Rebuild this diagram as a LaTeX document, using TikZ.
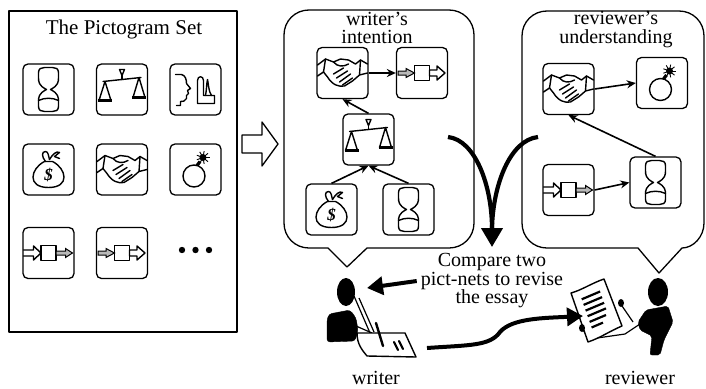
\documentclass[tikz,border=0pt]{standalone}
\usepackage{fontspec}
\setmainfont{Liberation Serif}
\usetikzlibrary{arrows.meta}

\newcommand\dgmfont{\fontsize{20}{18.5}\selectfont}

\tikzset{
  pbox/.style={draw, line width=1.3pt, rounded corners=5pt,
    minimum width=51pt, minimum height=51pt, inner sep=0pt},
  icon/.style={line width=1.4pt, line join=round, line cap=round},
  frame/.style={line width=1.3pt, line join=round},
  txt/.style={font=\dgmfont, align=center, inner sep=0pt},
  link/.style={line width=1.6pt, -{Stealth[length=9pt,width=8pt]}},
  heavy/.style={line width=4.2pt, -{Triangle[length=19pt,width=21pt]}},
  heavymid/.style={line width=4pt, -{Triangle[length=16pt,width=18pt]}},
  figure/.style={fill=black, draw=black, line join=round},
  % hourglass
  pics/hourglass/.style={code={
    \draw[icon] (-2,0) .. controls (-10,-4) and (-10,-8) .. (-10,-12) -- (-10,-17)
      .. controls (-10,-21) and (-7,-22) .. (-4,-22) -- (4,-22)
      .. controls (7,-22) and (10,-21) .. (10,-17) -- (10,-12)
      .. controls (10,-8) and (10,-4) .. (2,0)
      .. controls (10,4) and (10,8) .. (10,12) -- (10,17)
      .. controls (10,21) and (7,22) .. (4,22) -- (-4,22)
      .. controls (-7,22) and (-10,21) .. (-10,17) -- (-10,12)
      .. controls (-10,8) and (-10,4) .. (-2,0) -- cycle;
    \draw[icon] (-10,11) .. controls (-4,8) and (4,8) .. (10,11);
  }},
  % balance scales
  pics/scales/.style={code={
    \draw[icon] (-19,-8) -- (19,-12);
    \draw[icon] (-2.5,-20) -- (2.5,-20) -- (0,-14) -- cycle;
    \draw[icon] (0,-14) -- (0,-10);
    \draw[icon] (-23,11) -- (-17,-8) -- (-11,11);
    \draw[icon] (11,8) -- (17,-12) -- (23,8);
    \draw[line width=2.8pt] (-24,11) -- (-10,11);
    \draw[line width=2.8pt] (10,8) -- (24,8);
  }},
  % face in profile beside a raised hand
  pics/face/.style={code={
    \draw[icon] (-20,-15) -- (-14,-15) .. controls (-10,-14) and (-9,-10) .. (-9,-6)
      -- (-5,-1) -- (-8,1) -- (-7,4) -- (-9,6) -- (-9,9)
      .. controls (-10,12) and (-13,12) .. (-15,12) -- (-15,16) -- (-19,16);
    \draw[icon] (2,14) -- (2,-9) .. controls (2,-14) and (8,-14) .. (8,-9) -- (8,6)
      -- (19,6) -- (19,14) -- cycle;
    \draw[icon] (10,6) .. controls (11,2) and (11,-6) .. (12,-10)
      .. controls (13,-6) and (13,2) .. (16,6);
  }},
  % money bag
  pics/money/.style={code={
    \draw[icon] (-4,-8) .. controls (-18,-1) and (-22,18) .. (0,18)
      .. controls (22,18) and (18,-1) .. (4,-8) -- cycle;
    \draw[icon] (-3,-8) .. controls (-7,-13) and (-7,-18) .. (-3,-18)
      .. controls (0,-18) and (0,-13) .. (1,-10);
    \draw[icon] (1,-10) .. controls (4,-15) and (8,-19) .. (11,-17) -- (6,-13) -- (11,-11);
    \node[inner sep=0pt] at (0,5) {\fontsize{17}{17}\selectfont\bfseries\itshape\$};
  }},
  % handshake
  pics/handshake/.style={code={
    \draw[icon] (-25,-8) -- (-17,-14) -- (-9,-11) -- (-2,-14) -- (6,-13) -- (13,-9)
      -- (18,-13) -- (25,-9);
    \draw[icon] (-25,3) -- (-19,-1) -- (-15,4) .. controls (-10,12) and (-4,14) .. (2,13)
      -- (10,8) -- (17,2) -- (25,0);
    \draw[icon] (-9,-11) .. controls (-5,-6) and (1,-6) .. (6,-9);
    \draw[icon] (-9,1) -- (1,-5);
    \draw[icon] (-6,5) -- (5,-2);
    \draw[icon] (-3,9) -- (8,1);
    \draw[icon] (0,12) -- (10,5);
    \draw[icon] (-17,-14) -- (-19,-1);
    \draw[icon] (18,-13) -- (17,2);
  }},
  % bomb with a lit fuse
  pics/bomb/.style={code={
    \draw[icon] (-1.5,6.5) circle[radius=11];
    \draw[line width=3.2pt] (1.5,-4) -- (4.5,-8);
    \fill (7.5,-12) circle[radius=3.5];
    \foreach \a in {0,40,...,320} \draw[line width=0.9pt] (7.5,-12) -- ++(\a:6.5);
  }},
  % process: hollow arrow in, grey arrow out
  pics/procA/.style={code={
    \draw[icon] (-7.5,-7.5) rectangle (7.5,7.5);
    \draw[icon] (-25,-3) -- (-15,-3) -- (-15,-7) -- (-7.5,0) -- (-15,7) -- (-15,3)
      -- (-25,3);
    \draw[line width=1pt, fill=gray!55] (7.5,-2) -- (17,-2) -- (17,-4.5) -- (24,0)
      -- (17,4.5) -- (17,2) -- (7.5,2) -- cycle;
  }},
  % process: grey arrow in, hollow arrow out
  pics/procB/.style={code={
    \draw[icon] (-7.5,-7.5) rectangle (7.5,7.5);
    \draw[line width=1pt, fill=gray!55] (-24,-2) -- (-16,-2) -- (-16,-4.5)
      -- (-7.5,0) -- (-16,4.5) -- (-16,2) -- (-24,2) -- cycle;
    \draw[icon] (7.5,-3) -- (15,-3) -- (15,-7) -- (23,0) -- (15,7) -- (15,3)
      -- (7.5,3) -- cycle;
  }}
}

\begin{document}
\begin{tikzpicture}[x=1pt, y=-1pt]
\useasboundingbox (0,0) rectangle (706,388);

%----- the pictogram set -----
\draw[frame] (9,11) rectangle (237,332);
\node[inner sep=0pt] (settitle) at (124,29) {\fontsize{21}{21}\selectfont The Pictogram Set};

\node[pbox] (s1) at (48.5,89.5) {};   \pic at (s1) {hourglass};
\node[pbox] (s2) at (122,89.5) {};    \pic at (s2) {scales};
\node[pbox] (s3) at (195.5,89.5) {};  \pic at (s3) {face};
\node[pbox] (s4) at (48.5,169.5) {};  \pic at (s4) {money};
\node[pbox] (s5) at (122,169.5) {};   \pic at (s5) {handshake};
\node[pbox] (s6) at (195.5,169.5) {}; \pic at (s6) {bomb};
\node[pbox] (s7) at (48.5,253) {};    \pic at (s7) {procA};
\node[pbox] (s8) at (122,253) {};     \pic at (s8) {procB};
\foreach \x in {182,195.5,209} \fill (\x,250) circle[radius=3.2];

% hollow arrow towards the bubbles
\draw[frame] (242,135) -- (262,135) -- (262,122) -- (278,144) -- (262,166)
  -- (262,153) -- (242,153) -- cycle;

%----- writer's bubble -----
\draw[frame] (328,248) -- (309,248) .. controls (295,248) and (284,237) .. (284,223)
  -- (284,35) .. controls (284,21) and (295,10) .. (309,10) -- (449,10)
  .. controls (463,10) and (474,21) .. (474,35) -- (474,223)
  .. controls (474,237) and (463,248) .. (449,248) -- (367,248) -- (347,267) -- cycle;
\node[txt] (wtitle) at (377,28) {writer’s\\intention};

\node[pbox] (whs) at (342.5,73) {};   \pic at (whs) {handshake};
\node[pbox] (wpr) at (422,73) {};     \pic at (wpr) {procB};
\node[pbox] (wsc) at (368.5,139.5) {}; \pic at (wsc) {scales};
\node[pbox] (wmo) at (331.5,209.5) {}; \pic at (wmo) {money};
\node[pbox] (whg) at (408.5,209.5) {}; \pic at (whg) {hourglass};

\draw[link] (whs.east) -- (wpr.west);
\draw[link] (wsc.north) -- (whs.south);
\draw[link] (wmo.north) -- (wsc.south);
\draw[link] (whg.north) -- (wsc.south);

%----- reviewer's bubble -----
\draw[frame] (638,248) -- (547,248) .. controls (533,248) and (522,237) .. (522,223)
  -- (522,36) .. controls (522,22) and (533,11) .. (547,11) -- (679,11)
  .. controls (693,11) and (704,22) .. (704,36) -- (704,223)
  .. controls (704,237) and (693,248) .. (682,248) -- (659,273) -- cycle;
\node[txt] (rtitle) at (616,29.5) {reviewer’s\\understanding};

\node[pbox] (rhs) at (568.5,89) {};   \pic at (rhs) {handshake};
\node[pbox] (rbo) at (662,83) {};     \pic at (rbo) {bomb};
\node[pbox] (rpr) at (568.5,190) {};  \pic at (rpr) {procA};
\node[pbox] (rhg) at (655.5,182.5) {}; \pic at (rhg) {hourglass};

\draw[link] (rhs.east) -- (rbo.west);
\draw[link] (rhg.north) -- (rhs.south);
\draw[link] (rpr.east) -- (rhg.west);

%----- comparison arrows -----
\coordinate (cl) at (448,137);
\coordinate (cr) at (538,137);
\coordinate (ctip) at (492,247);
\coordinate (cjoin) at (492,228);
\draw[line width=4.2pt] (cr) .. controls (510,140) and (493,185) .. (cjoin);
\draw[heavy] (cl) .. controls (475,140) and (492,185) .. (ctip);

\node[txt] (cmp) at (492,281) {Compare two\\pict-nets to revise\\the essay};

%----- writer -----
\coordinate (wface) at (367,288);
\fill (346,292) ellipse[x radius=9, y radius=14];
\fill[figure, rounded corners=3pt] (329,314) -- (350,310) -- (356,318) -- (358,330)
  -- (355,341) -- (327,342) -- (327,320) -- cycle;
\draw[line width=1.2pt] (354,296) -- (370,333);
\draw[line width=1.2pt] (359,298) -- (374,332);
\draw[line width=1.2pt] (356,326) -- (372,333);
\draw[icon, fill=white] (357,333) -- (405,333) -- (416,357) -- (367,356)
  .. controls (362,350) and (357,344) .. (357,333) -- cycle;
\draw[line width=2.4pt, line cap=round] (376,323) -- (383,346);
\draw[line width=2.2pt, line cap=round] (394,342) -- (398,350);
\draw[line width=2.2pt, line cap=round] (399,341) -- (403,349);
\node[txt] (wlabel) at (376,378) {writer};
\coordinate (wpaper) at (427,348);

%----- reviewer -----
\fill (658,292) ellipse[x radius=10, y radius=14];
\fill[figure, rounded corners=2pt] (646,310) -- (668,306) -- (673,322) -- (664,340)
  -- (660,355) -- (650,355) -- (652,336) -- (640,330) -- (638,322) -- cycle;
\draw[line width=1.2pt] (583,330) -- (590,339) -- (625,334) -- (640,324);
\draw[line width=1.2pt] (620,303) -- (633,322);
\draw[icon, fill=white] (571,293) .. controls (582,290) and (592,283) .. (604,279)
  -- (622,326) .. controls (610,331) and (600,338) .. (588,342) -- cycle;
\foreach \ax/\ay/\bx/\by in {581.7/299.3/600.1/291.5, 583.6/304.9/602.1/297.1,
    585.6/310.6/604.1/302.8, 587.6/316.2/606.0/308.4, 589.6/321.9/606/315,
    591.6/327.5/603/322.6}
  \draw[line width=2.2pt] (\ax,\ay) -- (\bx,\by);
\fill (582,328) ellipse[x radius=3, y radius=4];
\fill (621,303) ellipse[x radius=3, y radius=4];
\node[txt] (rlabel) at (640,378) {reviewer};
\coordinate (rpaper) at (583,316);

%----- essay exchange arrows -----
\draw[heavymid] ([xshift=-4pt]cmp.west) -- (wface);
\draw[heavymid] (wpaper) .. controls (470,345) and (490,346) .. (500,332)
  .. controls (512,318) and (545,318) .. (rpaper);
\end{tikzpicture}
\end{document}
